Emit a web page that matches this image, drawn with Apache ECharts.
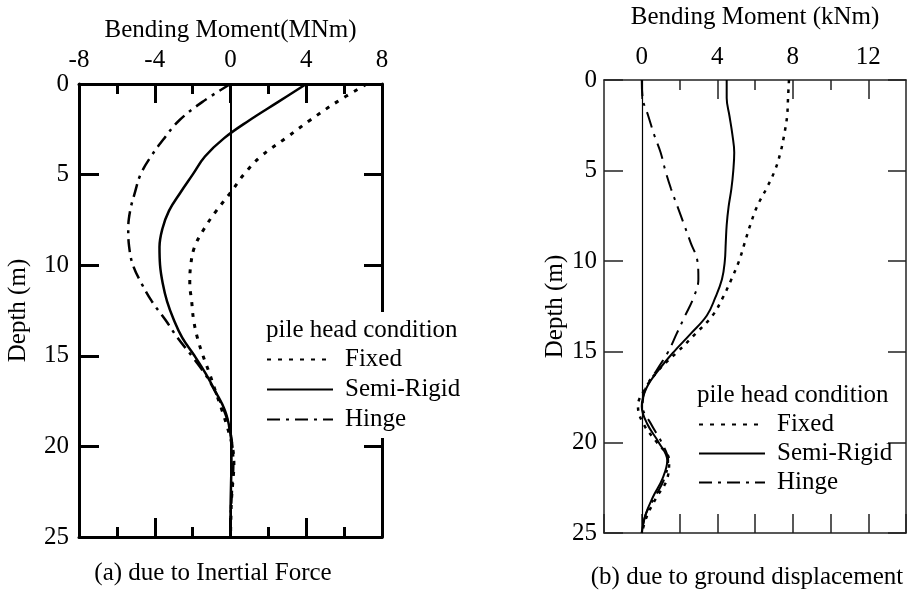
<!DOCTYPE html>
<html>
<head>
<meta charset="utf-8">
<script src="https://cdn.jsdelivr.net/npm/echarts@6/dist/echarts.min.js"></script>
<style>
html, body { margin: 0; padding: 0; background: #fff; }
#main { width: 921px; height: 593px; }
</style>
</head>
<body>
<div id="main"></div>
<script>
// depth (m), same sampling for both panels
var depth = [0, 1, 2, 3, 4, 5, 6, 7, 8, 9, 10, 11, 12, 13, 14, 15, 16, 17, 18, 19, 20, 21, 22, 23, 24, 25];

// (a) due to inertial force, MNm
var fixedA = [7.2, 5.6, 4.2, 2.9, 1.6, 0.7, 0.0, -0.75, -1.4, -1.9, -2.1, -2.15, -2.05, -1.95, -1.75, -1.45, -1.1, -0.78, -0.45, -0.15, 0.1, 0.18, 0.12, 0.05, 0.02, 0];
var semiA = [4.0, 2.5, 1.0, -0.35, -1.35, -2.0, -2.65, -3.25, -3.6, -3.75, -3.72, -3.58, -3.35, -3.0, -2.55, -1.9, -1.3, -0.78, -0.3, -0.05, 0.05, 0.05, 0.03, 0.01, 0, 0];
var hingeA = [0, -1.5, -2.7, -3.5, -4.2, -4.75, -5.05, -5.3, -5.4, -5.35, -5.15, -4.7, -4.15, -3.45, -2.8, -2.05, -1.35, -0.8, -0.35, -0.05, 0.1, 0.15, 0.1, 0.05, 0, 0];

// (b) due to ground displacement, kNm
var fixedB = [7.8, 7.75, 7.7, 7.55, 7.35, 7.05, 6.6, 6.1, 5.75, 5.45, 5.15, 4.75, 4.3, 3.75, 2.85, 1.9, 0.9, 0.2, -0.2, 0.1, 0.8, 1.45, 1.35, 0.8, 0.3, 0];
var semiB = [4.5, 4.5, 4.65, 4.8, 4.9, 4.85, 4.75, 4.6, 4.5, 4.45, 4.4, 4.25, 3.9, 3.45, 2.6, 1.7, 0.9, 0.25, 0.0, 0.3, 0.9, 1.35, 1.1, 0.6, 0.2, 0];
var hingeB = [0, 0.05, 0.35, 0.65, 1.0, 1.25, 1.55, 1.9, 2.25, 2.6, 2.95, 3.0, 2.75, 2.3, 1.85, 1.4, 0.8, 0.2, 0.05, 0.5, 1.05, 1.4, 1.2, 0.7, 0.2, 0];

// tick values for panel (b) top axis
var majorB = [0, 4, 8, 12];
var minorB = [2, 6, 10];

var names = ['Fixed', 'Semi-Rigid', 'Hinge'];
var FONT = 'Liberation Serif';

function pairs(xs) {
    return depth.map(function (d, i) { return [xs[i], d]; });
}

function txt(size) {
    return { fontFamily: FONT, fontSize: size, color: '#000' };
}

function lineSeries(name, xs, idx, width, type, zeroWidth) {
    var s = {
        name: name,
        type: 'line',
        xAxisIndex: idx === 0 ? 0 : 2,
        yAxisIndex: idx === 0 ? 0 : 2,
        data: pairs(xs),
        symbol: 'none',
        smooth: 0.4,
        lineStyle: { color: '#000', width: width, type: type },
        itemStyle: { color: '#000' }
    };
    if (zeroWidth) {
        s.markLine = {
            silent: true,
            symbol: ['none', 'none'],
            label: { show: false },
            lineStyle: { color: '#000', width: zeroWidth, type: 'solid' },
            data: [{ xAxis: 0 }]
        };
    }
    return s;
}

var chart = echarts.init(document.getElementById('main'));

var thickA = { color: '#000', width: 3 };
var thinB = { color: '#222', width: 1.5 };

var option = {
    animation: false,
    grid: [
        { left: 79, top: 84, width: 303, height: 453 },
        { left: 604, top: 80, width: 302, height: 453 }
    ],
    xAxis: [
        {
            gridIndex: 0, type: 'value', position: 'top', min: -8, max: 8, interval: 4,
            name: 'Bending Moment(MNm)', nameLocation: 'middle', nameGap: 35, nameTextStyle: txt(25),
            axisLine: { onZero: false, lineStyle: thickA },
            axisTick: { inside: true, length: 19, lineStyle: thickA },
            minorTick: { show: true, splitNumber: 2, length: 10, lineStyle: thickA },
            axisLabel: Object.assign({ margin: 11 }, txt(25)),
            splitLine: { show: false }
        },
        {
            gridIndex: 0, type: 'value', position: 'bottom', min: -8, max: 8, interval: 4,
            axisLine: { onZero: false, lineStyle: thickA },
            axisTick: { inside: true, length: 19, lineStyle: thickA },
            minorTick: { show: true, splitNumber: 2, length: 10, lineStyle: thickA },
            axisLabel: { show: false },
            splitLine: { show: false }
        },
        {
            gridIndex: 1, type: 'value', position: 'top', min: -2, max: 14, interval: 2,
            name: 'Bending Moment (kNm)', nameLocation: 'middle', nameGap: 50, nameTextStyle: txt(25),
            axisLine: { onZero: false, lineStyle: thinB },
            axisTick: { inside: true, length: 19, lineStyle: thinB, customValues: majorB },
            axisLabel: Object.assign({ margin: 10, customValues: majorB }, txt(25)),
            splitLine: { show: false }
        },
        {
            gridIndex: 1, type: 'value', position: 'bottom', min: -2, max: 14, interval: 2,
            axisLine: { onZero: false, lineStyle: thinB },
            axisTick: { inside: true, length: 19, lineStyle: thinB },
            axisLabel: { show: false },
            splitLine: { show: false }
        },
        {
            gridIndex: 1, type: 'value', position: 'top', min: -2, max: 14, interval: 2,
            axisLine: { show: false, onZero: false },
            axisTick: { inside: true, length: 10, lineStyle: thinB, customValues: minorB },
            axisLabel: { show: false },
            splitLine: { show: false }
        }
    ],
    yAxis: [
        {
            gridIndex: 0, type: 'value', position: 'left', inverse: true, min: 0, max: 25, interval: 5,
            name: 'Depth (m)', nameLocation: 'middle', nameGap: 48, nameTextStyle: txt(25),
            axisLine: { onZero: false, lineStyle: thickA },
            axisTick: { inside: true, length: 20, lineStyle: thickA },
            axisLabel: Object.assign({ margin: 10 }, txt(25)),
            splitLine: { show: false }
        },
        {
            gridIndex: 0, type: 'value', position: 'right', inverse: true, min: 0, max: 25, interval: 5,
            axisLine: { onZero: false, lineStyle: thickA },
            axisTick: { inside: true, length: 18, lineStyle: thickA },
            axisLabel: { show: false },
            splitLine: { show: false }
        },
        {
            gridIndex: 1, type: 'value', position: 'left', inverse: true, min: 0, max: 25, interval: 5,
            name: 'Depth (m)', nameLocation: 'middle', nameGap: 29, nameTextStyle: txt(25),
            axisLine: { onZero: false, lineStyle: thinB },
            axisTick: { inside: true, length: 19, lineStyle: thinB },
            axisLabel: Object.assign({ margin: 7 }, txt(25)),
            splitLine: { show: false }
        },
        {
            gridIndex: 1, type: 'value', position: 'right', inverse: true, min: 0, max: 25, interval: 5,
            axisLine: { onZero: false, lineStyle: thinB },
            axisTick: { inside: true, length: 18, lineStyle: thinB },
            axisLabel: { show: false },
            splitLine: { show: false }
        }
    ],
    legend: [
        {
            data: names, orient: 'vertical', left: 262, top: 312,
            padding: [35, 10, 6, 4], itemWidth: 66, itemHeight: 14, itemGap: 5,
            backgroundColor: '#fff', selectedMode: false,
            itemStyle: { opacity: 0 },
            textStyle: Object.assign({ padding: [0, 0, 0, 7] }, txt(25))
        },
        {
            data: names, orient: 'vertical', left: 694, top: 377,
            padding: [35, 4, 6, 4], itemWidth: 66, itemHeight: 14, itemGap: 4,
            selectedMode: false,
            itemStyle: { opacity: 0 },
            textStyle: Object.assign({ padding: [0, 0, 0, 7] }, txt(25))
        }
    ],
    graphic: [
        { type: 'text', z: 10, style: { x: 266, y: 330, text: 'pile head condition', font: '25px "Liberation Serif"', fill: '#000', textAlign: 'left', textVerticalAlign: 'middle' } },
        { type: 'text', z: 10, style: { x: 697, y: 395, text: 'pile head condition', font: '25px "Liberation Serif"', fill: '#000', textAlign: 'left', textVerticalAlign: 'middle' } },
        { type: 'text', z: 10, style: { x: 213, y: 573, text: '(a) due to Inertial Force', font: '25px "Liberation Serif"', fill: '#000', textAlign: 'center', textVerticalAlign: 'middle' } },
        { type: 'text', z: 10, style: { x: 747, y: 577, text: '(b) due to ground displacement', font: '25px "Liberation Serif"', fill: '#000', textAlign: 'center', textVerticalAlign: 'middle' } }
    ],
    series: [
        lineSeries('Fixed', fixedA, 0, 3, [4, 7], 2),
        lineSeries('Semi-Rigid', semiA, 0, 2.5, 'solid'),
        lineSeries('Hinge', hingeA, 0, 2.5, [13, 6, 3, 6]),
        lineSeries('Fixed', fixedB, 1, 2.5, [3.5, 6], 1.2),
        lineSeries('Semi-Rigid', semiB, 1, 2, 'solid'),
        lineSeries('Hinge', hingeB, 1, 2, [16, 7, 3, 7])
    ]
};

chart.setOption(option);
</script>
</body>
</html>
